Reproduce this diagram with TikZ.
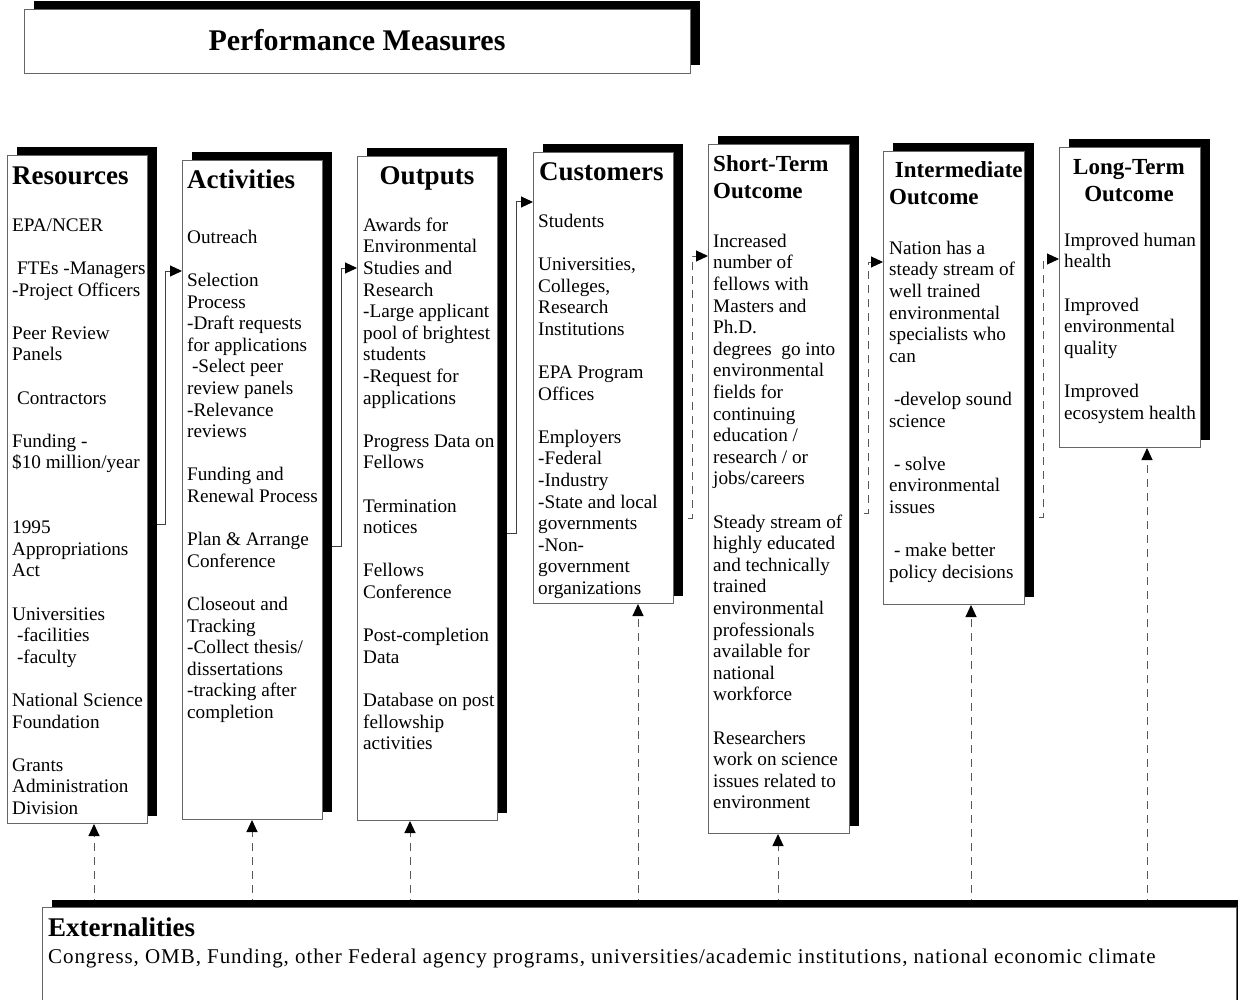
\documentclass[tikz,border=0pt]{standalone}
\usepackage{fontspec}
\setmainfont{Liberation Serif}
\usetikzlibrary{arrows.meta,shadows}
\pgfdeclarelayer{background}
\pgfsetlayers{background,main}
\tikzset{
  >={Triangle[length=12pt,width=11pt,color=black]},
}
\newcommand{\bodyfont}{\fontsize{19.2}{21.6}\selectfont}
\newcommand{\headfont}{\fontsize{27}{30}\selectfont\bfseries}
\newcommand{\outfont}{\fontsize{23}{27}\selectfont\bfseries}
\newcommand{\skipln}{\\[21.6pt]}
\tikzstyle{panel}=[draw=black!60,fill=white,line width=1pt,inner sep=0pt,anchor=north west,
  drop shadow={shadow xshift=9pt,shadow yshift=8pt,fill=black,opacity=1}]
\tikzstyle{coltext}=[anchor=north west,align=left,inner sep=0pt,font=\bodyfont]
\tikzstyle{colhead}=[anchor=base west,inner sep=0pt,font=\headfont]
\tikzstyle{outhead}=[anchor=north west,align=left,inner sep=0pt,font=\outfont]
\tikzstyle{flowline}=[->,draw=black!75,line width=1pt]
\tikzstyle{dashline}=[->,draw=black!65,line width=1pt,dash pattern=on 8pt off 6pt]

\begin{document}
\begin{tikzpicture}[x=1pt,y=-1pt]
        \useasboundingbox (0,0) rectangle (1238,1000);
        \clip (0,0) rectangle (1238,1000);
        \node[panel,minimum width=666pt,minimum height=64pt] (pm) at (24,9) {};
        \node[anchor=base,inner sep=0pt,font=\fontsize{30}{34}\selectfont\bfseries] (pm-t) at (357,51) {Performance Measures};
        \node[panel,minimum width=140pt,minimum height=668pt] (res) at (7,155) {};
        \node[panel,minimum width=140pt,minimum height=659pt] (act) at (182,160) {};
        \node[panel,minimum width=140pt,minimum height=664pt] (out) at (357,156) {};
        \node[panel,minimum width=140pt,minimum height=451pt] (cus) at (533,152) {};
        \node[panel,minimum width=141pt,minimum height=689pt] (sht) at (708,144) {};
        \node[panel,minimum width=141pt,minimum height=453pt] (imd) at (883,151) {};
        \node[panel,minimum width=141pt,minimum height=300pt] (lng) at (1059,147) {};
        \node[panel,minimum width=1194pt,minimum height=120pt] (ext) at (42,907) {};
        \node[colhead] (res-h) at (12,185) {Resources};
        \node[colhead] (act-h) at (187,189) {Activities};
        \node[colhead,anchor=base] (out-h) at (427,185) {Outputs};
        \node[colhead] (cus-h) at (539,181) {Customers};
        \node[outhead] (sht-h) at (713,152) {\strut Short-Term\\Outcome};
        \node[outhead] (imd-h) at (889,158) {\strut\ Intermediate\\Outcome};
        \node[outhead,anchor=north,align=center] (lng-h) at (1129,155) {\strut Long-Term\\Outcome};
        \node[colhead] (ext-h) at (48,936) {Externalities};
        \node[coltext] (res-t) at (12,216) {\strut EPA/NCER\skipln
          \ FTEs -Managers\\-Project Officers\skipln
          Peer Review\\Panels\skipln
          \ Contractors\skipln
          Funding -\\\$10 million/year\\[43.2pt]
          1995\\Appropriations\\Act\skipln
          Universities\\\ -facilities\\\ -faculty\skipln
          National Science\\Foundation\skipln
          Grants\\Administration\\Division};
        \node[coltext] (act-t) at (187,228) {\strut Outreach\skipln
          Selection\\Process\\-Draft requests\\for applications\\\ -Select peer\\review panels\\-Relevance\\reviews\skipln
          Funding and\\Renewal Process\skipln
          Plan \& Arrange\\Conference\skipln
          Closeout and\\Tracking\\-Collect thesis/\\dissertations\\-tracking after\\completion};
        \node[coltext] (out-t) at (363,216) {\strut Awards for\\Environmental\\Studies and\\Research\\-Large applicant\\pool of brightest\\students\\-Request for\\applications\skipln
          Progress Data on\\Fellows\skipln
          Termination\\notices\skipln
          Fellows\\Conference\skipln
          Post-completion\\Data\skipln
          Database on post\\fellowship\\activities};
        \node[coltext] (cus-t) at (538,212) {\strut Students\skipln
          Universities,\\Colleges,\\Research\\Institutions\skipln
          EPA Program\\Offices\skipln
          Employers\\-Federal\\-Industry\\-State and local\\governments\\-Non-\\government\\organizations};
        \node[coltext] (sht-t) at (713,232) {\strut Increased\\number of\\fellows with\\Masters and\\Ph.D.\\degrees\ \ go into\\environmental\\fields for\\continuing\\education /\\research / or\\jobs/careers\skipln
          Steady stream of\\highly educated\\and technically\\trained\\environmental\\professionals\\available for\\national\\workforce\skipln
          Researchers\\work on science\\issues related to\\environment};
        \node[coltext] (imd-t) at (889,239) {\strut Nation has a\\steady stream of\\well trained\\environmental\\specialists who\\can\skipln
          \ -develop sound\\science\skipln
          \ - solve\\environmental\\issues\skipln
          \ - make better\\policy decisions};
        \node[coltext] (lng-t) at (1064,231) {\strut Improved human\\health\skipln
          Improved\\environmental\\quality\skipln
          Improved\\ecosystem health};
        \node[coltext,anchor=base west,font=\fontsize{21}{24}\selectfont\addfontfeature{LetterSpace=4.4}] (ext-t) at (48,963) {Congress, OMB, Funding, other Federal agency programs, universities/academic institutions, national economic climate};
        \begin{pgfonlayer}{background}
        \draw[flowline] (res.east |- 0,524) -- ++(17,0) |- (act.west |- 0,271);
        \draw[flowline] (act.east |- 0,546) -- ++(18,0) |- (out.west |- 0,268);
        \draw[flowline] (out.east |- 0,533) -- ++(18,0) |- (cus.west |- 0,202);
        \draw[dashline] (cus.east |- 0,518) -- ++(18,0) |- (sht.west |- 0,256);
        \draw[dashline] (sht.east |- 0,513) -- ++(18,0) |- (imd.west |- 0,262);
        \draw[dashline] (imd.east |- 0,517) -- ++(18,0) |- (lng.west |- 0,259);
        \foreach \n/\x in {res/94,act/252,out/410,cus/638,sht/778,imd/971,lng/1147}
          \draw[dashline] (ext.north -| \x,0) -- (\n.south -| \x,0);
        \end{pgfonlayer}
\end{tikzpicture}
\end{document}
